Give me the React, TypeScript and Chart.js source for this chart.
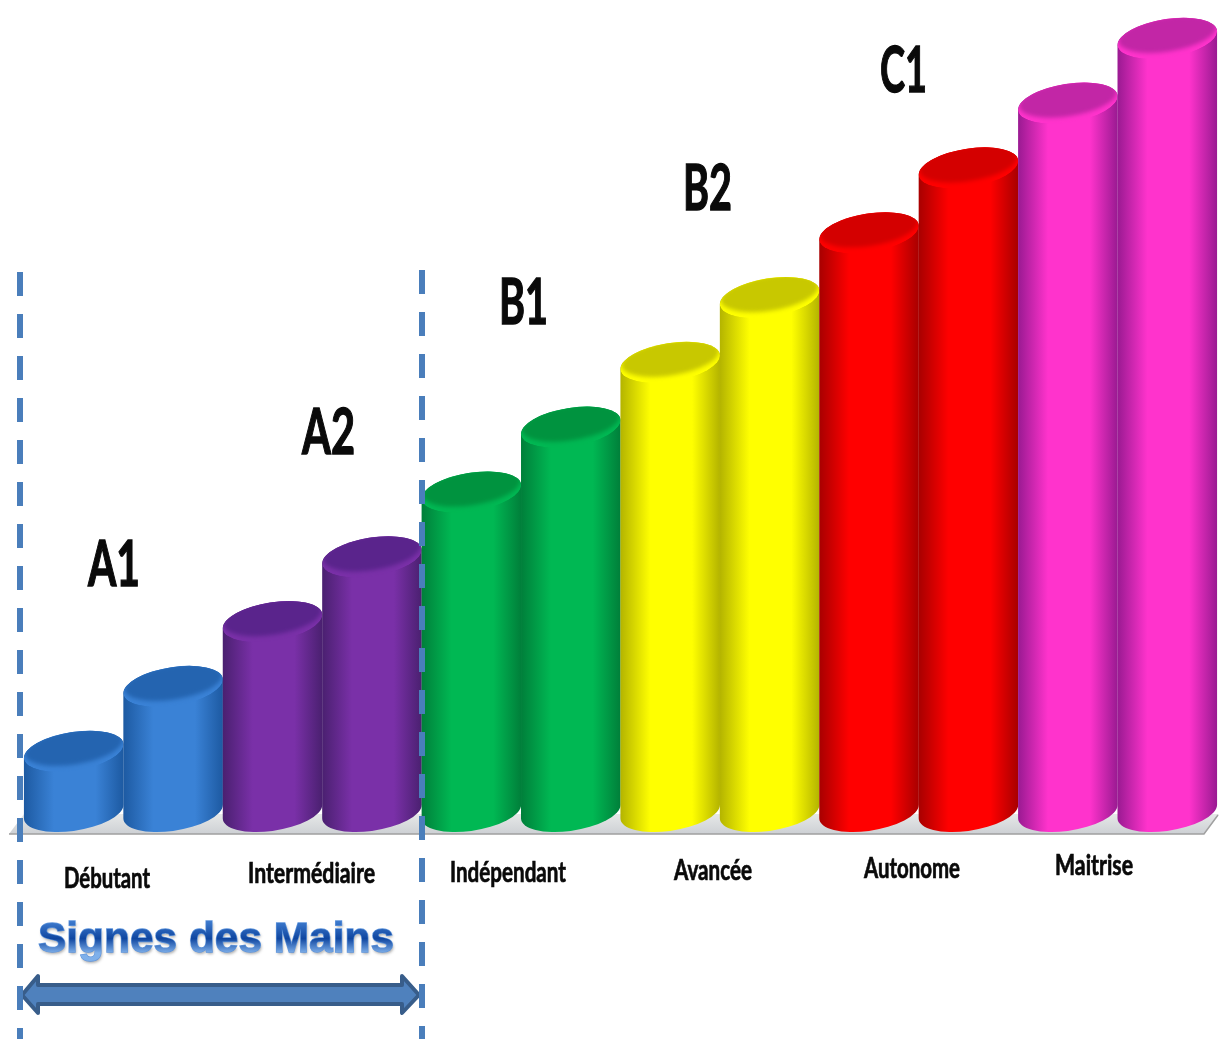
import React, { useEffect, useRef } from "react";
import { Chart, registerables } from "chart.js";

Chart.register(...registerables);

// ---- data ----
const categories = ["A1-1", "A1-2", "A2-1", "A2-2", "B1-1", "B1-2", "B2-1", "B2-2", "C1-1", "C1-2", "C1-3", "C1-4"];
const barValues = [1, 2, 3, 4, 5, 6, 7, 8, 9, 10, 11, 12];
const levelNames = ["A1", "A2", "B1", "B2", "C1"];
const stageNames = ["Débutant", "Intermédiaire", "Indépendant", "Avancée", "Autonome", "Maitrise"];
const spanTitle = "Signes des Mains";

// ---- styling ----
const barColors = ["#3a82d6", "#3a82d6", "#7a30a8", "#7a30a8", "#00b853", "#00b853", "#ffff00", "#ffff00", "#ff0000", "#ff0000", "#ff33cc", "#ff33cc"];
const edgeColors = ["#1d5aa2", "#1d5aa2", "#4a2070", "#4a2070", "#007f3a", "#007f3a", "#b4b400", "#b4b400", "#a80000", "#a80000", "#9a1a92", "#9a1a92"];
const faceColors = ["#2464b0", "#2464b0", "#5a248c", "#5a248c", "#00933f", "#00933f", "#c8c800", "#c8c800", "#d40000", "#d40000", "#c226a6", "#c226a6"];
const levelLayout = [
  { x: 88, y: 586, w: 52 },
  { x: 302, y: 454, w: 53 },
  { x: 499, y: 324, w: 49 },
  { x: 683, y: 210, w: 49 },
  { x: 880, y: 92, w: 47 },
];
const stageLayout = [
  { x: 64, y: 888, w: 86 },
  { x: 248, y: 883, w: 127 },
  { x: 450, y: 882, w: 116 },
  { x: 674, y: 880, w: 78 },
  { x: 864, y: 878, w: 96 },
  { x: 1055, y: 875, w: 78 },
];

const TILT = (-9 * Math.PI) / 180;
const SEMI_B = 19.2;

function cylinder(ctx: CanvasRenderingContext2D, el: any, i: number) {
  const left = el.x - el.width / 2;
  const a = el.width / 2 + 0.6;
  const b = SEMI_B;
  const phi = Math.atan2(-b * Math.sin(TILT), a * Math.cos(TILT));
  const cy = el.y;
  const by = el.base - 4.5;
  const cx = el.x;

  const g = ctx.createLinearGradient(left, 0, left + el.width, 0);
  g.addColorStop(0, edgeColors[i]);
  g.addColorStop(0.3, barColors[i]);
  g.addColorStop(0.72, barColors[i]);
  g.addColorStop(1, edgeColors[i]);

  ctx.save();
  ctx.beginPath();
  ctx.ellipse(cx, by, a, b, TILT, phi, phi + Math.PI, false);
  ctx.ellipse(cx, cy, a, b, TILT, phi + Math.PI, phi + 2 * Math.PI, false);
  ctx.closePath();
  ctx.fillStyle = g;
  ctx.fill();
  ctx.restore();

  // top face with a soft light rim on its lower edge
  ctx.save();
  ctx.beginPath();
  ctx.ellipse(cx, cy, a, b, TILT, 0, Math.PI * 2);
  ctx.clip();
  ctx.fillStyle = barColors[i];
  ctx.fill();
  (ctx as any).filter = "blur(2px)";
  ctx.beginPath();
  ctx.ellipse(cx, cy - 4, a - 1, b - 2, TILT, 0, Math.PI * 2);
  ctx.fillStyle = faceColors[i];
  ctx.fill();
  ctx.restore();
}

const decorPlugin = {
  id: "cylinderDecor",
  beforeDatasetsDraw(chart: any) {
    const ctx: CanvasRenderingContext2D = chart.ctx;
    ctx.save();
    const floor = ctx.createLinearGradient(0, 814, 0, 834);
    floor.addColorStop(0, "#e6e8e8");
    floor.addColorStop(1, "#cdd0d4");
    ctx.beginPath();
    ctx.moveTo(9, 834);
    ctx.lineTo(24, 814);
    ctx.lineTo(1219, 814);
    ctx.lineTo(1204, 834);
    ctx.closePath();
    ctx.fillStyle = floor;
    ctx.fill();
    ctx.strokeStyle = "#a0a0a0";
    ctx.lineWidth = 1.5;
    ctx.beginPath();
    ctx.moveTo(9, 834);
    ctx.lineTo(1204, 834);
    ctx.lineTo(1218, 815);
    ctx.stroke();
    ctx.restore();
  },
  beforeDatasetDraw(chart: any, args: any) {
    const ctx: CanvasRenderingContext2D = chart.ctx;
    args.meta.data.forEach((el: any, i: number) => cylinder(ctx, el, i));
    return false;
  },
  afterDatasetsDraw(chart: any) {
    const ctx: CanvasRenderingContext2D = chart.ctx;
    ctx.save();
    ctx.textAlign = "left";
    ctx.textBaseline = "alphabetic";
    ctx.fillStyle = "#0a0a0a";
    ctx.strokeStyle = "#0a0a0a";

    ctx.save();
    (ctx as any).filter = "blur(0.5px)";
    ctx.font = "bold 64px Lato";
    ctx.lineWidth = 1.4;
    levelNames.forEach((t, i) => {
      const p = levelLayout[i];
      ctx.fillText(t, p.x, p.y, p.w);
      ctx.strokeText(t, p.x, p.y, p.w);
    });

    ctx.font = "bold 28px Lato";
    ctx.lineWidth = 0.7;
    stageNames.forEach((t, i) => {
      const p = stageLayout[i];
      ctx.fillText(t, p.x, p.y, p.w);
      ctx.strokeText(t, p.x, p.y, p.w);
    });
    ctx.restore();

    // span title
    ctx.font = "bold 43px 'Liberation Sans'";
    const tg = ctx.createLinearGradient(0, 921, 0, 953);
    tg.addColorStop(0, "#3f7ccf");
    tg.addColorStop(0.55, "#0f46a0");
    tg.addColorStop(1, "#7fb0ea");
    ctx.save();
    ctx.shadowColor = "rgba(70,70,70,0.45)";
    ctx.shadowBlur = 3;
    ctx.shadowOffsetX = 1;
    ctx.shadowOffsetY = 2;
    ctx.fillStyle = tg;
    ctx.fillText(spanTitle, 38, 952, 356);
    ctx.restore();
    ctx.strokeStyle = "#5f95dc";
    ctx.lineWidth = 1.3;
    ctx.strokeText(spanTitle, 38, 952, 356);
    ctx.fillStyle = tg;
    ctx.fillText(spanTitle, 38, 952, 356);

    // double arrow
    ctx.beginPath();
    ctx.moveTo(22, 995);
    ctx.lineTo(38, 976);
    ctx.lineTo(38, 985);
    ctx.lineTo(402, 985);
    ctx.lineTo(402, 976);
    ctx.lineTo(419, 995);
    ctx.lineTo(402, 1013);
    ctx.lineTo(402, 1004);
    ctx.lineTo(38, 1004);
    ctx.lineTo(38, 1013);
    ctx.closePath();
    ctx.fillStyle = "#4f81bd";
    ctx.fill();
    ctx.strokeStyle = "#385d8a";
    ctx.lineWidth = 4;
    ctx.lineJoin = "round";
    ctx.stroke();

    // dashed bracket lines
    ctx.strokeStyle = "#4a7ebb";
    ctx.lineWidth = 6;
    ctx.setLineDash([24, 18]);
    ctx.beginPath();
    ctx.moveTo(20, 272);
    ctx.lineTo(20, 1039);
    ctx.moveTo(422, 270);
    ctx.lineTo(422, 1039);
    ctx.stroke();
    ctx.restore();
  },
};

export default function App() {
  const ref = useRef<HTMLCanvasElement | null>(null);
  useEffect(() => {
    const chart = new Chart(ref.current as HTMLCanvasElement, {
      type: "bar",
      data: {
        labels: categories,
        datasets: [
          {
            data: barValues,
            backgroundColor: barColors,
            barPercentage: 1,
            categoryPercentage: 1,
            clip: false as any,
          },
        ],
      },
      options: {
        responsive: false,
        animation: false,
        devicePixelRatio: 1,
        layout: { padding: { left: 24, right: 2, top: 0, bottom: 223 } },
        plugins: { legend: { display: false }, tooltip: { enabled: false } },
        scales: {
          x: { display: false },
          y: { display: false, min: 0, max: 12.59 },
        },
      },
      plugins: [decorPlugin],
    });
    return () => chart.destroy();
  }, []);
  return (
    <canvas
      ref={ref}
      width={1219}
      height={1039}
      style={{ position: "fixed", left: 0, top: 0, display: "block", background: "#ffffff" }}
    />
  );
}
